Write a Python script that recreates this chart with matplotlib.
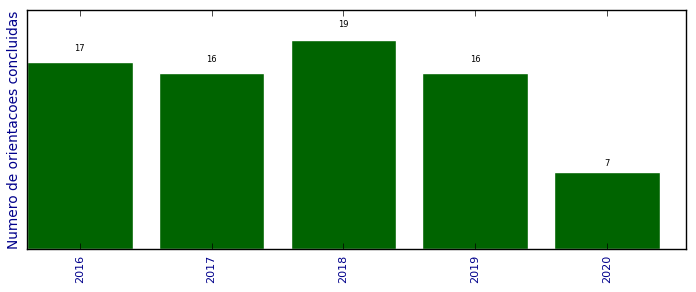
import matplotlib
matplotlib.use('Agg')
import matplotlib.pyplot as plt

# data
years = ['2016', '2017', '2018', '2019', '2020']
orientacoes = [17, 16, 19, 16, 7]

plt.style.use('classic')
fig = plt.figure(figsize=(6.96, 2.92), dpi=100)
ax = fig.add_axes([0.039, 0.147, 0.9466, 0.8188])

pos = range(len(years))
ax.bar(pos, orientacoes, width=0.8, color='darkgreen', edgecolor='white', align='center')

for x, v in zip(pos, orientacoes):
    ax.text(x, v * 1.05, str(v), ha='center', va='bottom', fontsize=6)

ax.set_xlim(-0.4, len(years) - 0.4)
ax.set_ylim(0, max(orientacoes) * 1.143)
ax.set_xticks(list(pos))
ax.set_xticklabels(years, rotation=90, color='darkblue', fontsize=8)
ax.set_yticks([])
ax.set_ylabel('Numero de orientacoes concluidas', color='darkblue', fontsize=9.9)
ax.yaxis.set_label_coords(-0.01, 0.5)

fig.savefig('out.png', dpi=100)
